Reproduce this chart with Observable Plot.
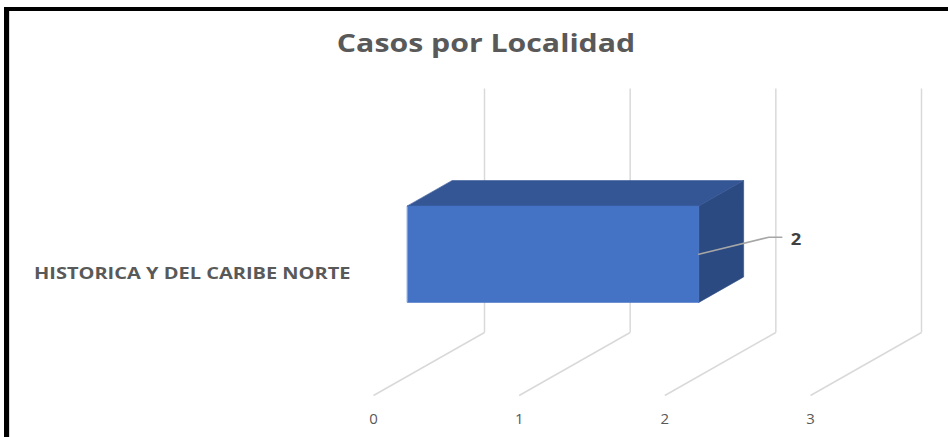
<!DOCTYPE html>
<html><head><meta charset="utf-8">
<script src="https://cdn.jsdelivr.net/npm/d3@7"></script>
<script src="https://cdn.jsdelivr.net/npm/@observablehq/plot@0.6"></script>
<style>
body{margin:0;background:#fff;}
#chart{position:relative;width:948px;height:437px;overflow:hidden;font-family:"Open Sans",sans-serif;background:#fff;}
#chart svg{position:absolute;left:0;top:0;}
#title{position:absolute;top:26px;left:486px;transform:translateX(-50%) scaleX(1.21);transform-origin:center;font-size:25px;font-weight:700;color:#595959;white-space:nowrap;line-height:32px;}
#frame{position:absolute;left:4px;top:7px;width:980px;height:460px;border-left:5px solid #000;border-top:4px solid #000;box-sizing:border-box;pointer-events:none;}
#inner{position:absolute;left:9px;top:11px;width:980px;height:460px;border-left:1px solid #d9d9d9;box-sizing:border-box;pointer-events:none;}
</style></head><body>
<div id="chart"><div id="title"></div><div id="inner"></div><div id="frame"></div></div>
<script>
// ---- data ----
const title = "Casos por Localidad";
const categories = ["HISTORICA Y DEL CARIBE NORTE"];
const values = [2];
const tickValues = [0, 1, 2, 3];
const tickLabels = ["0", "1", "2", "3"];

// ---- oblique 3D projection parameters (value units / height units) ----
const DX = 0.762;   // x shift (value units) for full depth
const DH = 63;      // height shift for full depth
const WALL = 244;   // wall height
const D1 = 0.306, D2 = 0.71; // bar front/back depth fractions
const BAR = 0.395;  // bar thickness as fraction of category band
const proj = (v, h, d) => ({x: v + d * DX, y: h + d * DH});

const band = d3.scaleBand().domain(categories).range([WALL, 0]).padding(0);

const faces = [];
const labels = [];
const leaders = [];
categories.forEach((cat, i) => {
  const v = values[i];
  const c = band(cat) + band.bandwidth() / 2;
  const half = band.bandwidth() * BAR / 2;
  const hb = c - half, ht = c + half;
  const add = (face, pts) => pts.forEach((p, k) => faces.push({face: cat + "|" + face, kind: face, k, ...p}));
  add("right", [proj(v, hb, D1), proj(v, hb, D2), proj(v, ht, D2), proj(v, ht, D1)]);
  add("top", [proj(0, ht, D1), proj(v, ht, D1), proj(v, ht, D2), proj(0, ht, D2)]);
  add("front", [proj(0, hb, D1), proj(v, hb, D1), proj(v, ht, D1), proj(0, ht, D1)]);
  const s = proj(v, c, D1);
  const e1 = {x: s.x + 0.48, y: s.y + 17};
  const e2 = {x: e1.x + 0.09, y: e1.y};
  [s, e1, e2].forEach(p => leaders.push({cat, ...p}));
  labels.push({cat, text: String(v), x: e2.x, y: e2.y, catY: c});
});

const faceColor = {front: "#4472C4", top: "#345694", right: "#2B4A82"};

document.getElementById("title").textContent = title;

const chart = Plot.plot({
  width: 948,
  height: 437,
  marginLeft: 373,
  marginRight: 138,
  marginTop: 88,
  marginBottom: 42,
  x: {domain: [0, 3]},
  y: {domain: [0, WALL + DH], axis: null},
  style: {background: "transparent", fontFamily: "'Open Sans', sans-serif", overflow: "visible"},
  marks: [
    // back wall gridlines
    Plot.link(tickValues, {x1: t => t + DX, x2: t => t + DX, y1: DH, y2: DH + WALL, stroke: "#d9d9d9", strokeWidth: 1.5}),
    // floor gridlines
    Plot.link(tickValues, {x1: t => t, y1: 0, x2: t => t + DX, y2: DH, stroke: "#d9d9d9", strokeWidth: 1.5}),
    // bar faces
    Plot.line(faces, {x: "x", y: "y", z: "face", curve: "linear-closed",
      fill: d => faceColor[d.kind], stroke: d => faceColor[d.kind], strokeWidth: 0.6}),
    // leader line
    Plot.line(leaders, {x: "x", y: "y", z: "cat", stroke: "#a6a6a6", strokeWidth: 1.5}),
    // data label
    Plot.text(labels, {x: "x", y: "y", text: "text", dx: 9, dy: 3, textAnchor: "start",
      fontSize: 16, fontWeight: 700, fill: "#404040", className: "vallabel"}),
    // category label
    Plot.text(labels, {x: 0, y: "catY", text: "cat", dx: -23, textAnchor: "end",
      fontSize: 16, fontWeight: 700, fill: "#595959", className: "catlabel"}),
    // value axis
    Plot.axisX(tickValues, {tickSize: 0, tickPadding: 18, fontSize: 15, fill: "#595959",
      tickFormat: (d, i) => tickLabels[i], label: null})
  ]
});

// widen text horizontally like the reference rendering (keeps Plot's own x/y/dy attributes)
function stretch(sel, k) {
  d3.select(chart).selectAll(sel).each(function () {
    const t = this.getAttribute("transform") || "";
    this.setAttribute("transform", `${t} scale(${k},1)`);
  });
}
stretch("g.catlabel text", 1.25);
stretch("g.vallabel text", 1.15);

document.getElementById("chart").insertBefore(chart, document.getElementById("title"));
</script>
</body></html>
